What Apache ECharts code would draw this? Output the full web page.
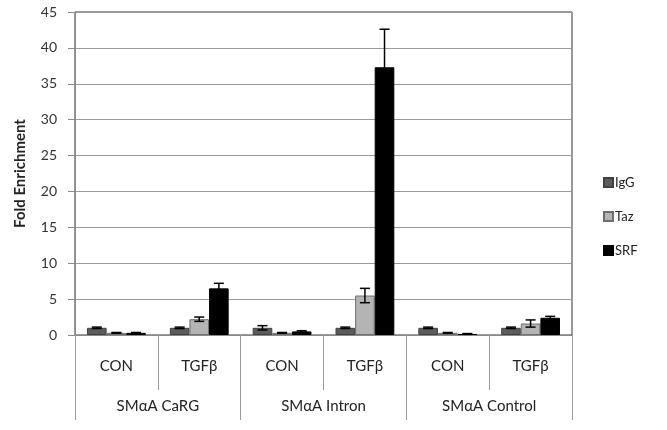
<!DOCTYPE html>
<html>
<head>
<meta charset="utf-8">
<script src="https://cdn.jsdelivr.net/npm/echarts@6/dist/echarts.min.js"></script>
<style>
  html, body { margin: 0; padding: 0; background: #fff; }
  #chart { width: 667px; height: 430px; }
</style>
</head>
<body>
<div id="chart"></div>
<script>
// treatment per bar group, and the promoter regions underneath
const treatments = ['CON', 'TGFβ', 'CON', 'TGFβ', 'CON', 'TGFβ'];
const regions = ['SMαA CaRG', 'SMαA Intron', 'SMαA Control'];
const seriesNames = ['IgG', 'Taz', 'SRF'];

const igg = [1.0, 1.0, 1.0, 1.0, 1.0, 1.0];
const iggErr = [0.1, 0.1, 0.3, 0.1, 0.1, 0.1];
const taz = [0.3, 2.2, 0.3, 5.5, 0.3, 1.6];
const tazErr = [0.05, 0.3, 0.05, 1.0, 0.05, 0.5];
const srf = [0.3, 6.5, 0.5, 37.3, 0.15, 2.4];
const srfErr = [0.05, 0.7, 0.1, 5.3, 0.05, 0.2];

const yTicks = [0, 5, 10, 15, 20, 25, 30, 35, 40, 45];

const colors = ['#5c5c5c', '#b4b4b4', '#000000'];
const borders = ['#404040', '#6e6e6e', '#000000'];
const catGap = 0.29;

let chart = echarts.init(document.getElementById('chart'));

// error bars drawn over the three bars of every category
function errorSeries(vals, errs, idx) {
    return {
        type: 'custom',
        xAxisIndex: 0,
        silent: true,
        z: 10,
        data: vals.map((v, i) => [i, v, errs[i]]),
        renderItem: function (params, api) {
            let band = api.size([1, 0])[0];
            let bw = band * (1 - catGap) / 3;
            let c = api.coord([api.value(0), api.value(1)]);
            let x = c[0] + (idx - 1) * bw;
            let top = api.coord([api.value(0), api.value(1) + api.value(2)])[1];
            let bot = api.coord([api.value(0), api.value(1) - api.value(2)])[1];
            let cap = 5;
            let st = { stroke: '#000', lineWidth: 1.5 };
            return {
                type: 'group',
                children: [
                    { type: 'line', shape: { x1: x, y1: top, x2: x, y2: bot }, style: st },
                    { type: 'line', shape: { x1: x - cap, y1: top, x2: x + cap, y2: top }, style: st },
                    { type: 'line', shape: { x1: x - cap, y1: bot, x2: x + cap, y2: bot }, style: st }
                ]
            };
        }
    };
}

let barData = [igg, taz, srf];
let errData = [iggErr, tazErr, srfErr];

let series = [];
seriesNames.forEach((n, k) => {
    series.push({
        name: n,
        type: 'bar',
        xAxisIndex: 0,
        barGap: 0,
        barCategoryGap: (catGap * 100) + '%',
        itemStyle: { color: colors[k], borderColor: borders[k], borderWidth: 1 },
        data: barData[k]
    });
});
seriesNames.forEach((n, k) => {
    series.push(errorSeries(barData[k], errData[k], k));
});

chart.setOption({
    animation: false,
    textStyle: { fontFamily: 'Lato, "Open Sans", sans-serif' },
    legend: {
        data: seriesNames,
        orient: 'vertical',
        left: 598,
        top: 171,
        itemWidth: 9,
        itemHeight: 9,
        itemGap: 21,
        icon: 'rect',
        textStyle: { fontSize: 13, color: '#222', padding: [0, 0, 0, -3] }
    },
    grid: { left: 75, right: 95, top: 12, bottom: 95, show: true, borderColor: '#333', borderWidth: 1 },
    xAxis: [
        {
            type: 'category',
            data: treatments,
            position: 'bottom',
            axisLine: { lineStyle: { color: '#8a8a8a' } },
            axisTick: { show: true, interval: 0, length: 55, lineStyle: { color: '#9a9a9a' } },
            axisLabel: { interval: 0, margin: 24, fontSize: 15, color: '#222' }
        },
        {
            type: 'category',
            data: regions,
            position: 'bottom',
            axisLine: { show: false },
            axisTick: { show: true, interval: 0, length: 85, lineStyle: { color: '#9a9a9a' } },
            axisLabel: { interval: 0, margin: 64, fontSize: 15, color: '#222' }
        }
    ],
    yAxis: {
        type: 'value',
        min: yTicks[0],
        max: yTicks[yTicks.length - 1],
        interval: 5,
        name: 'Fold Enrichment',
        nameLocation: 'middle',
        nameGap: 47,
        nameTextStyle: { fontSize: 15, fontWeight: 'bold', color: '#222' },
        axisLine: { show: true, lineStyle: { color: '#8a8a8a' } },
        axisTick: { show: true, length: 7, lineStyle: { color: '#8a8a8a' } },
        axisLabel: { fontSize: 14, color: '#333', margin: 18 },
        splitLine: { lineStyle: { color: '#9a9a9a' } }
    },
    series: series
});
</script>
</body>
</html>
